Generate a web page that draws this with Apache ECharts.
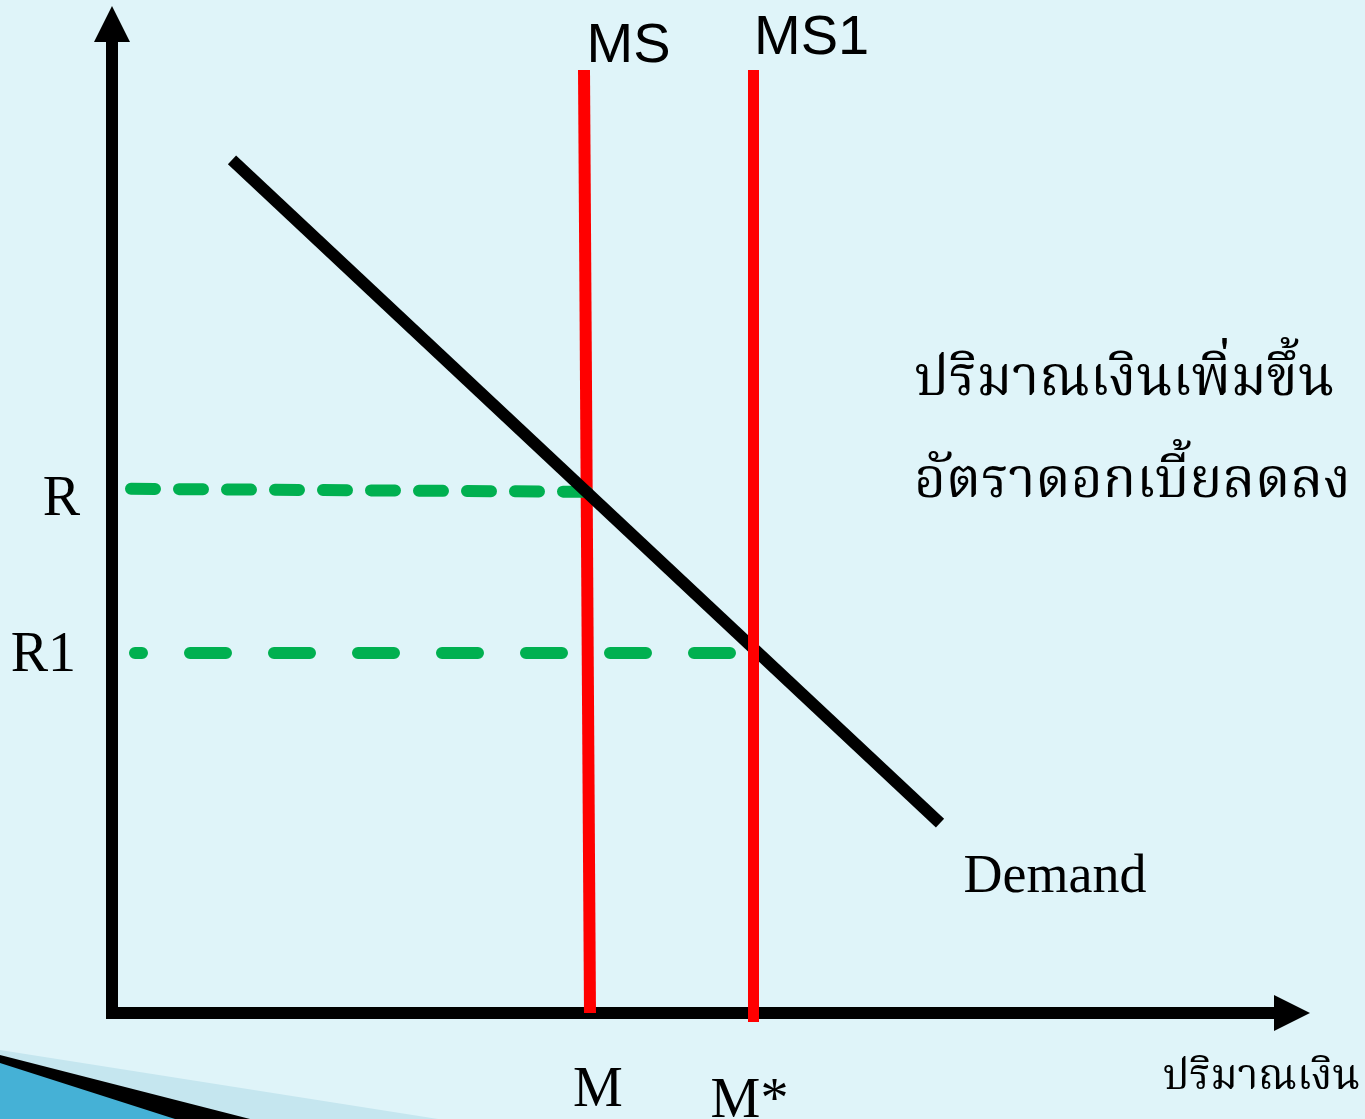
<!DOCTYPE html>
<html>
<head>
<meta charset="utf-8">
<script src="https://cdn.jsdelivr.net/npm/echarts@6/dist/echarts.min.js"></script>
<style>
  html, body { margin: 0; padding: 0; background: #dff4f9; }
  #chart { width: 1365px; height: 1119px; }
</style>
</head>
<body>
<div id="chart"></div>
<script>
// Money market: demand for money against two vertical money-supply lines
const demandLine   = [[12, 86.25], [82.8, 19.2]];
const moneySupply  = [[47.2, 95.35], [47.8, 0]];
const moneySupply1 = [[64.15, 95.35], [64.15, -0.9]];
const rateR        = [[1.9, 53.0], [47.5, 52.7]];
const rateR1       = [[2.3, 36.4], [62.8, 36.4]];

const yTickValues = [53.0, 36.4];
const yTickLabels = ['R', 'R1'];
const xTickValues = [47.8, 64.15];
const xTickLabels = ['M', 'M*'];

const seriesNames = ['MS', 'MS1', 'Demand'];
const noteLines = ['ปริมาณเงินเพิ่มขึ้น', 'อัตราดอกเบี้ยลดลง'];
const xAxisName = 'ปริมาณเงิน';

const SERIF = '"Liberation Serif", "Times New Roman", serif';
const SANS = '"Liberation Sans", Arial, sans-serif';
const THAI = '"Noto Serif Thai", "Noto Sans Thai", "TLWG Typo", Norasi, Garuda, Loma, "Liberation Serif", serif';

const chart = echarts.init(document.getElementById('chart'), null, { renderer: 'canvas' });

const axisLineStyle = { color: '#000', width: 12, cap: 'square' };

// invisible anchor points carrying the line names
function nameTag(point, text, font, size, offset) {
  return {
    value: point,
    label: {
      formatter: '{t|' + text + '}',
      offset: offset,
      rich: { t: { fontFamily: font, fontSize: size, color: '#000', opacity: 1 } }
    }
  };
}

const option = {
  backgroundColor: '#dff4f9',
  animation: false,
  title: {
    text: noteLines.join('\n'),
    left: 909,
    top: 330,
    textStyle: { fontFamily: THAI, fontSize: 55, fontWeight: 'normal', color: '#000', lineHeight: 102 }
  },
  graphic: [
    // corner ribbon of the slide template
    { type: 'polygon', silent: true, z: -1,
      shape: { points: [[0, 1050], [438, 1119], [0, 1119]] },
      style: { fill: '#c5e6ef' } },
    { type: 'polygon', silent: true, z: -1,
      shape: { points: [[0, 1055], [250, 1119], [0, 1119]] },
      style: { fill: '#000' } },
    { type: 'polygon', silent: true, z: -1,
      shape: { points: [[0, 1063], [175, 1119], [0, 1119]] },
      style: { fill: '#45b1d6' } }
  ],
  grid: { left: 112, right: 73, top: 24, bottom: 106, outerBoundsMode: 'none' },
  xAxis: {
    type: 'value', min: 0, max: 118,
    splitLine: { show: false },
    axisTick: { show: false },
    axisLine: { show: true, lineStyle: axisLineStyle, symbol: ['none', 'triangle'], symbolSize: [36, 36] },
    name: xAxisName,
    nameLocation: 'end',
    nameGap: 68,
    nameTextStyle: { fontFamily: THAI, fontSize: 42, color: '#000', align: 'right', verticalAlign: 'top', padding: [48, 0, 0, 0] },
    axisLabel: {
      customValues: xTickValues,
      margin: 50,
      fontFamily: SERIF, fontSize: 56, color: '#000',
      formatter: v => '{' + (xTickValues.indexOf(v) === 0 ? 'a' : 'b') + '|' + xTickLabels[xTickValues.indexOf(v)] + '}',
      rich: {
        a: { fontFamily: SERIF, fontSize: 56, color: '#000', padding: [0, 0, 0, 16] },
        b: { fontFamily: SERIF, fontSize: 56, color: '#000', padding: [11, 8, 0, 0] }
      }
    }
  },
  yAxis: {
    type: 'value', min: 0, max: 100,
    splitLine: { show: false },
    axisTick: { show: false },
    axisLine: { show: true, lineStyle: axisLineStyle, symbol: ['none', 'triangle'], symbolSize: [36, 36] },
    axisLabel: {
      customValues: yTickValues,
      margin: 32,
      fontFamily: SERIF, fontSize: 56, color: '#000',
      formatter: v => '{' + (yTickValues.indexOf(v) === 0 ? 'a' : 'b') + '|' + yTickLabels[yTickValues.indexOf(v)] + '}',
      rich: {
        a: { fontFamily: SERIF, fontSize: 56, color: '#000', padding: [22, 0, 0, 0] },
        b: { fontFamily: SERIF, fontSize: 56, color: '#000', padding: [6, 4, 0, 0] }
      }
    }
  },
  series: [
    {
      name: seriesNames[0], type: 'line', symbol: 'none', clip: false, z: 2,
      lineStyle: { color: '#ff0000', width: 12, cap: 'butt' },
      data: moneySupply
    },
    {
      name: 'R', type: 'line', symbol: 'none', clip: false, z: 3,
      lineStyle: { color: '#00b050', width: 12, cap: 'round', type: [24, 24] },
      data: rateR
    },
    {
      name: 'R1', type: 'line', symbol: 'none', clip: false, z: 3,
      lineStyle: { color: '#00b050', width: 12, cap: 'round', type: [36, 48], dashOffset: 29 },
      data: rateR1
    },
    {
      name: seriesNames[2], type: 'line', symbol: 'none', clip: false, z: 4,
      lineStyle: { color: '#000', width: 12, cap: 'butt' },
      data: demandLine
    },
    {
      name: seriesNames[1], type: 'line', symbol: 'none', clip: false, z: 5,
      lineStyle: { color: '#ff0000', width: 11, cap: 'butt' },
      data: moneySupply1
    },
    {
      name: 'names', type: 'scatter', symbolSize: 1, clip: false, z: 6, silent: true,
      itemStyle: { color: 'rgba(0,0,0,0)' },
      label: { show: true, position: 'right', distance: 0, color: '#000', opacity: 1 },
      data: [
        nameTag(moneySupply[0], seriesNames[0], SANS, 56, [2, -23]),
        nameTag(moneySupply1[0], seriesNames[1], SANS, 56, [0, -31]),
        nameTag(demandLine[1], seriesNames[2], SERIF, 54, [23, 55])
      ]
    }
  ]
};

chart.setOption(option);
</script>
</body>
</html>
